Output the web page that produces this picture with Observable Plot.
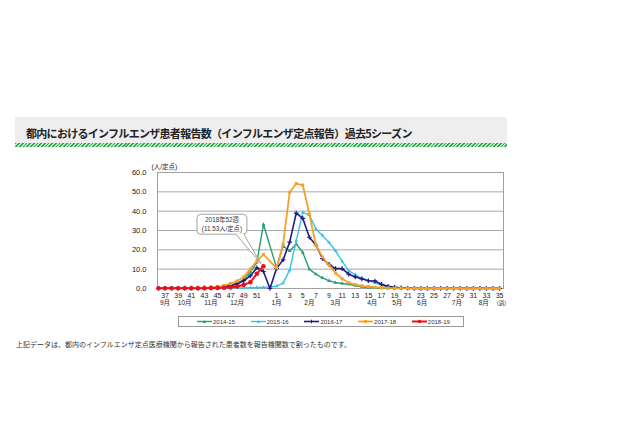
<!DOCTYPE html>
<html><head><meta charset="utf-8">
<script src="https://cdn.jsdelivr.net/npm/d3@7"></script>
<script src="https://cdn.jsdelivr.net/npm/@observablehq/plot@0.6"></script>
<style>
html,body{margin:0;padding:0;background:#fff;}
body{width:640px;height:426px;overflow:hidden;position:relative;font-family:"Liberation Sans","Noto Sans CJK JP",sans-serif;}
#hdr{position:absolute;left:15px;top:117px;width:492px;height:26px;background:#eeeeee;}
#hdr span{position:absolute;left:11px;top:11px;font-weight:bold;font-size:11px;line-height:11px;font-family:"Noto Sans CJK JP",sans-serif;letter-spacing:-0.7px;color:#222;white-space:nowrap;}
#stripe{position:absolute;left:15px;top:143px;width:492px;height:4px;background:repeating-linear-gradient(135deg,#2aa84a 0px,#2aa84a 1.2px,#bfe8c8 1.2px,#bfe8c8 2.6px);}
#chart{position:absolute;left:0;top:0;}
#legend{position:absolute;left:178px;top:316px;width:286px;height:11px;border:1px solid #9a9a9a;background:#fff;box-sizing:border-box;}
#legend .it{position:absolute;top:0;height:9px;display:flex;align-items:center;font-size:6px;color:#333;}
#foot{position:absolute;left:16px;top:341px;font-size:7px;line-height:7px;font-family:"Noto Sans CJK JP",sans-serif;color:#333;white-space:nowrap;}
</style></head>
<body>
<div id="hdr"><span></span></div>
<div id="stripe"></div>
<div id="chart"></div>
<div id="legend"></div>
<div id="foot"></div>
<script>
const titleText = "都内におけるインフルエンザ患者報告数（インフルエンザ定点報告）過去5シーズン";
const footText = "上記データは、都内のインフルエンザ定点医療機関から報告された患者数を報告機関数で割ったものです。";
const yUnit = "(人/定点)";
const weekUnit = "(週)";
const calloutLines = ["2018年52週", "(11.53人/定点)"];

// week slots (season runs from week 36 through week 35 of next year, with a week-53 slot)
const weeks = [36,37,38,39,40,41,42,43,44,45,46,47,48,49,50,51,52,53,1,2,3,4,5,6,7,8,9,10,11,12,13,14,15,16,17,18,19,20,21,22,23,24,25,26,27,28,29,30,31,32,33,34,35];
const weekTicks = [37,39,41,43,45,47,49,51,1,3,5,7,9,11,13,15,17,19,21,23,25,27,29,31,33,35];
const yTicks = [0,10,20,30,40,50,60];
const months = ["9月","10月","11月","12月","1月","2月","3月","4月","5月","6月","7月","8月"];
const monthWeek = [37,40,44,48,1,6,10,15.6,19.4,23.2,28.5,32.6];

const seasons = ["2014-15","2015-16","2016-17","2017-18","2018-19"];
const colors = ["#2a9d6e","#35c3ea","#221b80","#f2a12c","#e8111c"];

const s2014 = [0.1,0.1,0.1,0.1,0.1,0.2,0.2,0.3,0.4,0.6,1.0,1.7,2.8,4.6,8.5,13.5,33.2,null,
  10.8,22.0,19.4,23.0,18.6,10.0,7.4,5.5,4.0,3.0,2.6,2.2,1.5,0.9,0.5,0.3,0.2,0.1,0.1,0.1,0.1,0.05,0.05,0.05,0.05,0.05,0.05,0.05,0.05,0.05,0.05,0.05,0.05,0.05,0.05];
const s2015 = [0.1,0.1,0.1,0.1,0.1,0.1,0.1,0.1,0.1,0.2,0.2,0.2,0.3,0.3,0.4,0.5,0.6,0.8,
  1.2,2.8,9.5,24.8,39.4,38.0,30.8,27.4,23.8,19.5,14.0,9.2,7.1,5.3,4.1,2.9,1.6,0.8,0.4,0.2,0.1,0.05,0.05,0.05,0.05,0.05,0.05,0.05,0.05,0.05,0.05,0.05,0.05,0.05,0.05];
const s2016 = [0.1,0.1,0.1,0.1,0.2,0.2,0.2,0.3,0.4,0.6,0.9,1.4,2.4,4.0,6.5,10.7,8.8,0,
  10.3,14.8,24.0,39.0,36.3,26.5,22.5,15.5,12.5,10.3,10.3,7.4,6.0,5.0,4.0,3.9,2.2,1.1,0.6,0.3,0.1,0.05,0.05,0.05,0.05,0.05,0.05,0.05,0.05,0.05,0.05,0.05,0.05,0.05,0.05];
const s2017 = [0.2,0.2,0.2,0.2,0.3,0.3,0.3,0.4,0.5,0.9,1.6,2.6,3.9,6.0,10.0,14.2,17.6,null,
  10.6,22.8,49.8,54.3,53.5,38.5,22.4,16.3,12.0,8.0,5.0,3.0,2.0,1.4,1.0,0.7,0.5,0.3,0.2,0.1,0.1,0.05,0.05,0.05,0.05,0.05,0.05,0.05,0.05,0.05,0.05,0.05,0.05,0.05,0.05];
const s2018 = [0.1,0.1,0.1,0.1,0.1,0.1,0.1,0.1,0.2,0.3,0.4,0.6,1.0,1.9,3.2,7.6,11.53];

const seriesValues = [s2014,s2015,s2016,s2017,s2018];
const styles = [
  {sw:1.4, sym:"triangle", r:1.4},
  {sw:1.4, sym:"triangle", r:1.4},
  {sw:1.6, sym:"plus", r:1.6},
  {sw:1.8, sym:"square", r:1.7},
  {sw:2.0, sym:"circle", r:2.3}
];

const idx = w => { const f = Math.floor(w); return weeks.indexOf(f) + (w - f); };

const rows = [];
seriesValues.forEach((arr, k) => arr.forEach((v, i) => { if (v != null) rows.push({season: seasons[k], i, v}); }));

const fontLatin = '"Liberation Sans","Noto Sans CJK JP",sans-serif';
const marks = [
  Plot.ruleY(yTicks, {stroke:"#a8a8a8", strokeWidth:1}),
  Plot.frame({stroke:"#a0a0a0", strokeWidth:1})
];
seasons.forEach((s, k) => {
  const d = rows.filter(r => r.season === s);
  const st = styles[k];
  marks.push(Plot.line(d, {x:"i", y:"v", stroke:colors[k], strokeWidth:st.sw}));
  if (st.sym === "plus") {
    marks.push(Plot.dot(d, {x:"i", y:"v", symbol:"plus", r:st.r, stroke:colors[k], strokeWidth:1.2}));
  } else {
    marks.push(Plot.dot(d, {x:"i", y:"v", symbol:st.sym, r:st.r, fill:colors[k], stroke:"none"}));
  }
});
marks.push(
  Plot.text(weekTicks, {x: w => idx(w), text: w => String(w), frameAnchor:"bottom", lineAnchor:"top", dy:5, fontSize:7, fill:"#222"}),
  Plot.text(months, {x: (m, j) => idx(monthWeek[j]), text: m => m, frameAnchor:"bottom", lineAnchor:"top", dy:12, fontSize:6.5, fill:"#222"}),
  Plot.text([weekUnit], {x: () => idx(35), text: d => d, frameAnchor:"bottom", lineAnchor:"top", dx:2, dy:13, fontSize:5.5, fill:"#333"}),
  Plot.text(yTicks, {y: d => d, text: d => d.toFixed(1), frameAnchor:"left", textAnchor:"end", dx:-11, fontSize:7.5, fill:"#222"}),
  Plot.text([yUnit], {frameAnchor:"top-left", text: d => d, dx:-6, dy:-8, fontSize:6.5, fill:"#222"})
);

const p = Plot.plot({
  width:640, height:426,
  marginLeft:157, marginRight:137, marginTop:172, marginBottom:138,
  x:{domain:[-0.15,52.6], axis:null},
  y:{domain:[0,60], axis:null},
  style:{background:"transparent", fontFamily:fontLatin, overflow:"visible"},
  marks
});
document.getElementById("chart").appendChild(p);

// callout pointing at the last 2018-19 value
const sx = p.scale("x"), sy = p.scale("y");
const X = d3.scaleLinear(sx.domain, sx.range), Y = d3.scaleLinear(sy.domain, sy.range);
const lastI = s2018.length - 1;
const px = X(lastI), py = Y(s2018[lastI]);
const g = d3.select(p).append("g");
const bx = px - 66, by = py - 51.5, bw = 50, bh = 20;
g.append("rect").attr("x", bx).attr("y", by).attr("width", bw).attr("height", bh).attr("rx", 4)
  .attr("fill", "#fff").attr("stroke", "#8a8a8a").attr("stroke-width", 0.8);
g.append("path").attr("d", `M${px-27},${by+bh} L${px-2},${py-2} L${px-19},${by+bh}`)
  .attr("fill", "#fff").attr("stroke", "#8a8a8a").attr("stroke-width", 0.8);
g.append("line").attr("x1", px-26.4).attr("x2", px-19.6).attr("y1", by+bh).attr("y2", by+bh)
  .attr("stroke", "#fff").attr("stroke-width", 1.2);
calloutLines.forEach((t, j) => {
  g.append("text").attr("x", bx + bw/2).attr("y", by + 8 + j*9).attr("text-anchor", "middle")
    .attr("font-size", 6.3).attr("fill", "#333").attr("font-family", fontLatin).text(t);
});

document.querySelector("#hdr span").textContent = titleText;
document.getElementById("foot").textContent = footText;

// legend
const lg = document.getElementById("legend");
seasons.forEach((s, k) => {
  const it = document.createElement("div");
  it.className = "it";
  it.style.left = (18 + k * 53.7) + "px";
  const st = styles[k];
  let mk;
  if (st.sym === "circle") mk = `<circle cx="7.5" cy="4.5" r="1.8" fill="${colors[k]}"/>`;
  else if (st.sym === "square") mk = `<rect x="6" y="3" width="3" height="3" fill="${colors[k]}"/>`;
  else if (st.sym === "plus") mk = `<path d="M7.5,2.7V6.3M5.7,4.5H9.3" stroke="${colors[k]}" stroke-width="1"/>`;
  else mk = `<path d="M7.5,3 L9,6 L6,6Z" fill="${colors[k]}"/>`;
  it.innerHTML = `<svg width="15" height="9" style="display:block"><line x1="0" x2="15" y1="4.5" y2="4.5" stroke="${colors[k]}" stroke-width="${st.sw}"/>${mk}</svg><span style="margin-left:1px">${s}</span>`;
  lg.appendChild(it);
});
</script>
</body></html>
